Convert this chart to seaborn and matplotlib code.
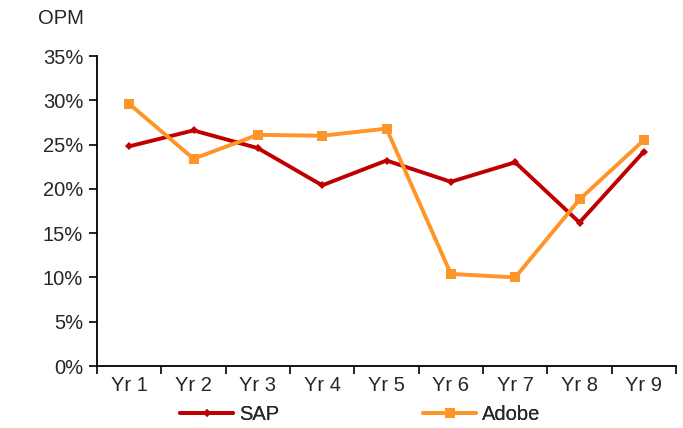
import numpy as np
import pandas as pd
import matplotlib
matplotlib.use("Agg")
import matplotlib.pyplot as plt
import seaborn as sns
from matplotlib.ticker import FixedLocator, PercentFormatter
from matplotlib.lines import Line2D

years = ["Yr 1", "Yr 2", "Yr 3", "Yr 4", "Yr 5", "Yr 6", "Yr 7", "Yr 8", "Yr 9"]
sap = [24.8, 26.6, 24.6, 20.4, 23.2, 20.8, 23.0, 16.2, 24.2]
adobe = [29.6, 23.4, 26.1, 26.0, 26.8, 10.4, 10.0, 18.8, 25.5]
series_names = ["SAP", "Adobe"]
colors = {"SAP": "#C00000", "Adobe": "#FF9428"}

sns.set_theme(style="white")
plt.rcParams["font.family"] = ["Liberation Sans", "DejaVu Sans"]
FS = 14.5
LW = 2.8

df = pd.DataFrame({
    "idx": list(range(len(years))) * 2,
    "value": sap + adobe,
    "series": ["SAP"] * len(years) + ["Adobe"] * len(years),
})

fig = plt.figure(figsize=(6.83, 4.28), dpi=100)
ax = fig.add_axes([97 / 683, 1 - 366 / 428, (676 - 97) / 683, (366 - 56) / 428])

sns.lineplot(data=df, x="idx", y="value", hue="series", hue_order=series_names,
             style="series", markers={"SAP": "D", "Adobe": "s"}, dashes=False,
             palette=colors, linewidth=LW, ax=ax, legend=False,
             markeredgewidth=0)
for line, ms in zip(ax.get_lines(), [4.5, 7.5]):
    line.set_markersize(ms)

ax.set_xlim(-0.5, len(years) - 0.5)
ax.set_ylim(0, 35)
ax.set_yticks(np.arange(0, 36, 5))
ax.yaxis.set_major_formatter(PercentFormatter(decimals=0))
ax.xaxis.set_major_locator(FixedLocator(np.arange(-0.5, len(years), 1.0)))
ax.xaxis.set_minor_locator(FixedLocator(np.arange(len(years))))
ax.set_xticklabels([], minor=False)
ax.set_xticklabels(years, minor=True)
ax.tick_params(axis="x", which="major", length=6, width=1.2, direction="out", color="black", bottom=True)
ax.tick_params(axis="x", which="minor", length=0, labelsize=FS, pad=7, bottom=True)
ax.tick_params(axis="y", length=6, width=1.2, direction="out", color="black", labelsize=FS, left=True, pad=4)
ax.set_xlabel("")
ax.set_ylabel("")
for s in ["top", "right"]:
    ax.spines[s].set_visible(False)
for s in ["left", "bottom"]:
    ax.spines[s].set_color("black")
    ax.spines[s].set_linewidth(1.3)

fig.text(38 / 683, 1 - 19 / 428, "OPM", fontsize=FS, va="center", ha="left")

marker_info = {"SAP": ("D", 4.5), "Adobe": ("s", 7.5)}
leg_x = {"SAP": 180, "Adobe": 423}
for name in series_names:
    mk, ms = marker_info[name]
    h = Line2D([], [], color=colors[name], marker=mk, markersize=ms, linewidth=LW, markeredgewidth=0)
    leg = fig.legend([h], [name], loc="center left", bbox_to_anchor=(leg_x[name] / 683, 1 - 415 / 428),
                     frameon=False, fontsize=FS, handlelength=2.65, handletextpad=0.3,
                     borderpad=0, borderaxespad=0)
    fig.add_artist(leg)

fig.savefig("out.png", dpi=100)
